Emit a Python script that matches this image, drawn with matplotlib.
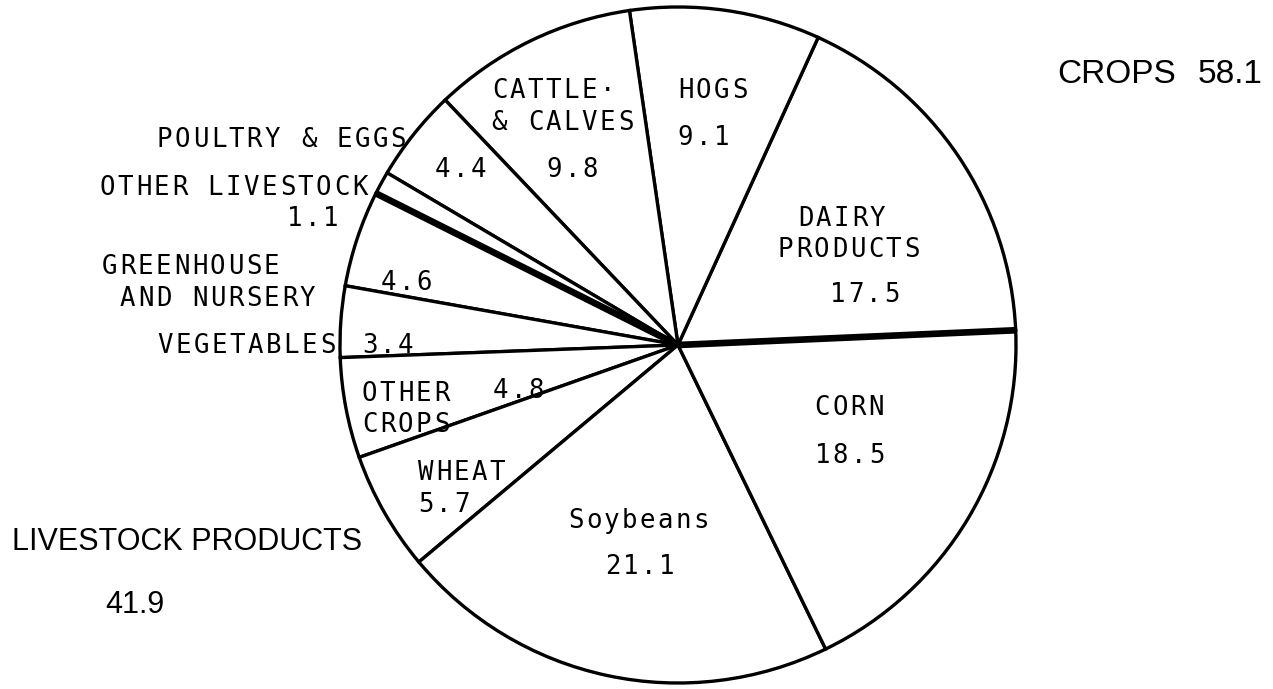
import numpy as np
import matplotlib.pyplot as plt

W, H = 1273, 689

# Доли в стоимости продукции, % (сектора идут против часовой стрелки)
sector_names = [['DAIRY', 'PRODUCTS'], ['HOGS'], ['CATTLE·', '& CALVES'],
                ['POULTRY & EGGS'], ['OTHER LIVESTOCK'],
                ['GREENHOUSE', 'AND NURSERY'], ['VEGETABLES'],
                ['OTHER', 'CROPS'], ['WHEAT'], ['Soybeans'], ['CORN']]
shares = [17.5, 9.1, 9.8, 4.4, 1.1, 4.6, 3.4, 4.8, 5.7, 21.1, 18.5]
n_livestock = 5
group_names = ['LIVESTOCK PRODUCTS', 'CROPS']
group_totals = [41.9, 58.1]

# Раскладка подписей в пикселях от левого верхнего угла:
# левый край строки и базовая линия
name_pos = [[(798, 226), (778, 257)], [(678, 98)], [(492, 98), (492, 130)],
            [(157, 147)], [(100, 195)], [(102, 274), (120, 306)], [(158, 353)],
            [(362, 401), (362, 432)], [(418, 480)], [(568, 528)], [(815, 415)]]
value_pos = [(830, 302), (678, 145), (547, 177), (435, 177), (287, 226),
             (381, 290), (362, 353), (493, 398), (418, 512), (605, 574), (815, 463)]

CX, CY, R = 678, 345, 338
START = 2.5
PITCH = 18
MONO = 'DejaVu Sans Mono'
BIG = ['Liberation Sans', 'DejaVu Sans']


def spaced(ax, s, x, y, pitch=PITCH, size=18.5):
    """Печатает строку посимвольно с шагом pitch, как плоттер."""
    for i, ch in enumerate(s):
        if ch == ' ':
            continue
        ax.text(x + 7.5 + i * pitch, H - y, ch, ha='center', va='baseline',
                fontsize=size, family=MONO, color='black')


fig = plt.figure(figsize=(W / 100, H / 100), dpi=100)
ax = fig.add_axes([0, 0, 1, 1])

ax.pie(shares, startangle=START, counterclock=True,
       colors=['white'] * len(shares), center=(CX, H - CY), radius=R,
       wedgeprops=dict(edgecolor='black', linewidth=2.4))

# Жирные линии между животноводством и растениеводством
bounds = START + 360 * np.concatenate([[0], np.cumsum(shares)]) / sum(shares)
for th in [bounds[0], bounds[n_livestock]]:
    t = np.deg2rad(th)
    ax.plot([CX, CX + R * np.cos(t)], [H - CY, H - CY + R * np.sin(t)],
            color='black', lw=4.8, solid_capstyle='butt')

for lines, poss, val, vpos in zip(sector_names, name_pos, shares, value_pos):
    for line, (x, y) in zip(lines, poss):
        spaced(ax, line, x, y)
    spaced(ax, f'{val:.1f}', *vpos)

# Итоги по группам
ax.text(12, H - 550, group_names[0], ha='left', va='baseline',
        fontsize=22, family=BIG)
ax.text(105, H - 613, f'{group_totals[0]:.1f}', ha='left', va='baseline',
        fontsize=22, family=BIG)
ax.text(1057, H - 83, group_names[1], ha='left', va='baseline',
        fontsize=24, family=BIG)
ax.text(1263, H - 83, f'{group_totals[1]:.1f}', ha='right', va='baseline',
        fontsize=24, family=BIG)

ax.set_xlim(0, W)
ax.set_ylim(0, H)
ax.set_aspect('equal')
ax.axis('off')

fig.savefig('out.png', dpi=100, facecolor='white')
